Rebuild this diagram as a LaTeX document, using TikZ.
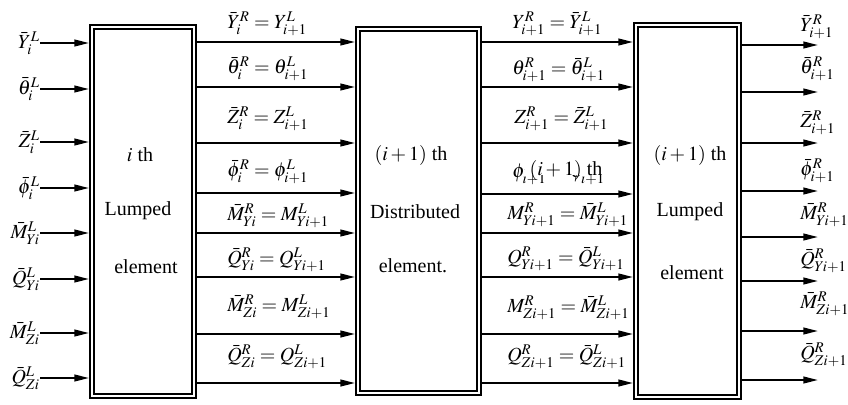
\documentclass[tikz,border=0pt]{standalone}
\usepackage{mathptmx}
\usepackage{fontspec}
\setmainfont{Liberation Serif}
\usepackage{tikz}
\usetikzlibrary{arrows.meta}

\begin{document}
\begin{tikzpicture}[x=0.75pt,y=-0.75pt,
    font=\fontsize{15}{18}\selectfont,
    elem/.style={draw,double,line width=1.4pt,double distance=1.6pt,
                 outer sep=2.2pt,inner sep=0pt},
    arr/.style={line width=1.5pt,-{Triangle[length=11pt,width=5pt]}},
    lbl/.style={inner sep=0pt}]
    \useasboundingbox (0,0) rectangle (848,404);

    % Elements
    \node[elem,minimum width=76.5pt,minimum height=276.75pt] (b1) at (143,211.5) {};
    \node[elem,minimum width=90.75pt,minimum height=273pt] (b2) at (418.5,211) {};
    \node[elem,minimum width=77.25pt,minimum height=279pt] (b3) at (687.5,211) {};

    \node (b1t) at (140,155) {$i$ th};
    \node (b1l) at (138,211) {Lumped};
    \node (b1e) at (146,267) {element};

    \node (b2t) at (411,155) {$(i+1)$ th};
    \node (b2l) at (415,212) {Distributed};
    \node (b2e) at (413,266) {element.};

    \node (b3t) at (690,155) {$(i+1)$ th};
    \node (b3l) at (690,212) {Lumped};
    \node (b3e) at (692,273) {element};

    % Inputs
    \foreach \y/\t [count=\n] in {43/{\bar{Y}_i^L},89/{\bar{\theta}_i^L},
        142/{\bar{Z}_i^L},188/{\bar{\phi}_i^L},233/{\bar{M}_{Yi}^L},
        279/{\bar{Q}_{Yi}^L},333/{\bar{M}_{Zi}^L},378/{\bar{Q}_{Zi}^L}} {
        \coordinate (in\n) at (40,\y);
        \draw[arr] (in\n) -- (b1.west |- in\n);
        \node[lbl,anchor=east] (inl\n) at (in\n) {$\t$};
    }

    % Lumped i -> distributed i+1
    \foreach \y/\c/\t [count=\n] in {42/24/{\bar{Y}_i^R=Y_{i+1}^L},
        87/69/{\bar{\theta}_i^R=\theta_{i+1}^L},
        143/119/{\bar{Z}_i^R=Z_{i+1}^L},
        193/172/{\bar{\phi}_i^R=\phi_{i+1}^L},
        233/216/{\bar{M}_{Yi}^R=M_{Yi+1}^L},
        277/260/{\bar{Q}_{Yi}^R=Q_{Yi+1}^L},
        334/307/{\bar{M}_{Zi}^R=M_{Zi+1}^L},
        383/357/{\bar{Q}_{Zi}^R=Q_{Zi+1}^L}} {
        \draw[arr] (b1.east |- 0,\y) -- (b2.west |- 0,\y);
        \node[lbl,anchor=west] (ma\n) at (227,\c) {$\t$};
    }

    % Distributed i+1 -> lumped i+1
    \foreach \y/\x/\c/\t [count=\n] in {42/512/24/{Y_{i+1}^R=\bar{Y}_{i+1}^L},
        87/512/70/{\theta_{i+1}^R=\bar{\theta}_{i+1}^L},
        143/514/119/{Z_{i+1}^R=\bar{Z}_{i+1}^L},
        194/512/173/{\phi_{i+1}^R=\bar{\phi}_{i+1}^L},
        233/507/215/{M_{Yi+1}^R=\bar{M}_{Yi+1}^L},
        277/507/259/{Q_{Yi+1}^R=\bar{Q}_{Yi+1}^L},
        334/507/308/{M_{Zi+1}^R=\bar{M}_{Zi+1}^L},
        383/507/357/{Q_{Zi+1}^R=\bar{Q}_{Zi+1}^L}} {
        \draw[arr] (b2.east |- 0,\y) -- (b3.west |- 0,\y);
        \node[lbl,anchor=west] (mb\n) at (\x,\c) {$\t$};
    }
    \node[fill=white,inner sep=0pt,text height=15pt,text depth=-3pt,
          minimum width=62pt,anchor=base] (ovl) at (566,175) {$(i+1)$ th};

    % Outputs
    \foreach \y/\c/\t [count=\n] in {45/27/{\bar{Y}_{i+1}^R},92/69/{\bar{\theta}_{i+1}^R},
        143/123/{\bar{Z}_{i+1}^R},191/171/{\bar{\phi}_{i+1}^R},
        237/215/{\bar{M}_{Yi+1}^R},281/261/{\bar{Q}_{Yi+1}^R},
        331/304/{\bar{M}_{Zi+1}^R},380/355/{\bar{Q}_{Zi+1}^R}} {
        \coordinate (out\n) at (818,\y);
        \draw[arr] (b3.east |- out\n) -- (out\n);
        \node[lbl,anchor=west] (outl\n) at (800,\c) {$\t$};
    }
\end{tikzpicture}
\end{document}
